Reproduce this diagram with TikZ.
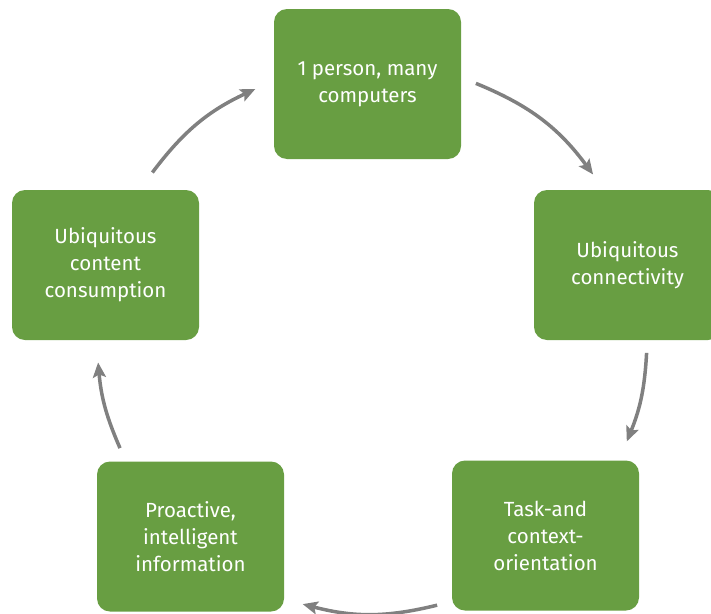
\documentclass[tikz,border=0pt]{standalone}
\usepackage{fontspec}
\setmainfont{Fira Sans}
\usepackage{tikz}
\usetikzlibrary{arrows.meta}
\definecolor{leaf}{RGB}{104,158,66}
\definecolor{arrowgray}{RGB}{128,128,128}
\tikzset{
  stage/.style={fill=leaf, rounded corners=13pt, minimum width=187pt, minimum height=150pt,
    text=white, align=center, font=\fontsize{20.5}{27}\selectfont},
  cyc/.style={draw=arrowgray, line width=3.5pt, -{Stealth[length=15pt,width=13pt,inset=3pt]}}
}

\begin{document}
\begin{tikzpicture}[x=1pt,y=-1pt]
\useasboundingbox (0,0) rectangle (711,613);
\clip (0,0) rectangle (711,613);
\node[stage] (person) at (367.5,84) {1 person, many\\computers};
\node[stage] (connect) at (627.5,265) {Ubiquitous\\connectivity};
\node[stage] (task) at (545.5,535.5) {Task-and\\context-\\orientation};
\node[stage] (proactive) at (190.5,536.5) {Proactive,\\intelligent\\information};
\node[stage] (content) at (105.5,265) {Ubiquitous\\content\\consumption};
% the cycle
\coordinate (ctr) at (372,338);
\coordinate (a1) at ([shift={(ctr)}]-67.8:275);
\coordinate (b1) at ([shift={(ctr)}]-36.5:275);
\coordinate (a2) at ([shift={(ctr)}]3.1:275);
\coordinate (b2) at ([shift={(ctr)}]22.1:275);
\coordinate (a3) at ([shift={(ctr)}]76.3:275);
\coordinate (b3) at ([shift={(ctr)}]104.6:275);
\coordinate (a4) at ([shift={(ctr)}]156.4:275);
\coordinate (b4) at ([shift={(ctr)}]174.9:275);
\coordinate (a5) at ([shift={(ctr)}]217:275);
\coordinate (b5) at ([shift={(ctr)}]244.9:275);
\draw[cyc] (a1) to[bend left=15.6] (b1);
\draw[cyc] (a2) to[bend left=9.5] (b2);
\draw[cyc] (a3) to[bend left=14.2] (b3);
\draw[cyc] (a4) to[bend left=9.3] (b4);
\draw[cyc] (a5) to[bend left=14] (b5);
\end{tikzpicture}
\end{document}
